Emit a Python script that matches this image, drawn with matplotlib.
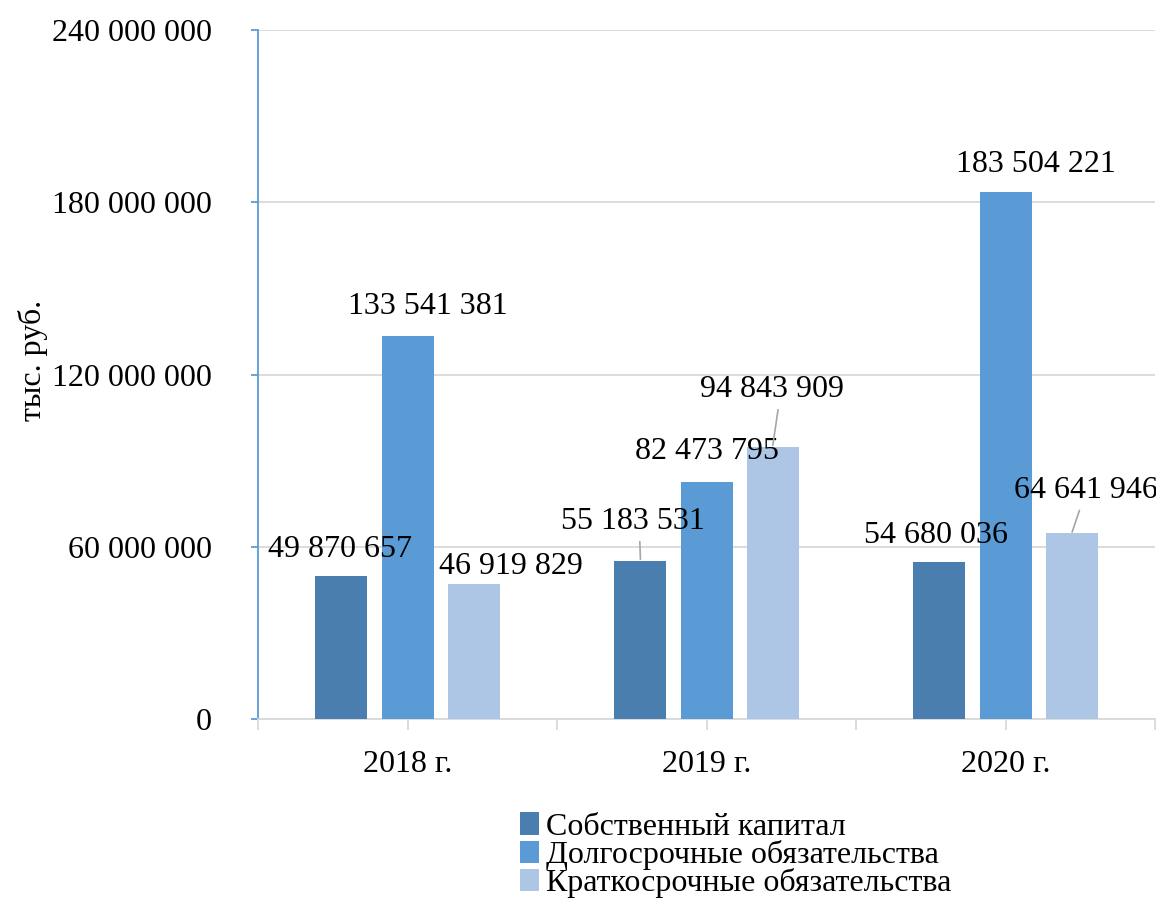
import numpy as np
import matplotlib.pyplot as plt
from matplotlib.ticker import FuncFormatter, MultipleLocator

plt.rcParams['font.family'] = ['Liberation Serif', 'DejaVu Serif']

years = ['2018 г.', '2019 г.', '2020 г.']
series = ['Собственный капитал', 'Долгосрочные обязательства', 'Краткосрочные обязательства']
equity = [49870657, 55183531, 54680036]
long_term = [133541381, 82473795, 183504221]
short_term = [46919829, 94843909, 64641946]
colors = ['#4A7EAF', '#5B9BD5', '#ADC6E5']

# label offsets from bar top (pixels) and whether a leader line is drawn
label_off = [
    [(-1, 26), (20, 29), (37, 18)],
    [(-8, 39), (0, 31), (-1, 57)],
    [(-3, 27), (30, 28), (14, 43)],
]
leaders = {(1, 0): 0.55, (1, 2): 0.55, (2, 2): 0.47}

def fmt(v):
    return f'{int(v):,}'.replace(',', ' ')

fig = plt.figure(figsize=(11.56, 9.07), dpi=100)
ax = fig.add_axes([0.2232, 0.2073, 0.7760, 0.7596])

x = np.arange(len(years))
w = 0.174
step = 0.221
data = [equity, long_term, short_term]
for i, vals in enumerate(data):
    ax.bar(x + (i - 1) * step, vals, w, color=colors[i], label=series[i], zorder=3)

for j in range(len(years)):
    for i, vals in enumerate(data):
        dx, dy = label_off[j][i]
        xy = (x[j] + (i - 1) * step, vals[j])
        kw = {}
        if (j, i) in leaders:
            kw['arrowprops'] = dict(arrowstyle='-', color='#A6A6A6', lw=1.2,
                                    shrinkA=2, shrinkB=1,
                                    relpos=(leaders[(j, i)], 0))
        ax.annotate(fmt(vals[j]), xy=xy, xytext=(dx, dy),
                    textcoords='offset pixels', ha='center', va='center',
                    fontsize=23, zorder=5, **kw)

ax.set_xlim(-0.5, 2.5)
ax.set_ylim(0, 240000000)
ax.yaxis.set_major_locator(MultipleLocator(60000000))
ax.yaxis.set_major_formatter(FuncFormatter(lambda v, p: fmt(v)))
ax.grid(axis='y', color='#D9D9D9', lw=1.3, zorder=0)

ax.set_xticks([-0.5, 0.5, 1.5, 2.5])
ax.set_xticks(x, minor=True)
ax.set_xticklabels([])
ax.set_xticklabels(years, minor=True)
ax.tick_params(axis='x', which='both', length=8, color='#D9D9D9', width=1.3,
               labelsize=23, pad=14)
ax.tick_params(axis='y', length=5, color='#5B9BD5', width=1.3, labelsize=23, pad=28)

for s in ['top', 'right']:
    ax.spines[s].set_visible(False)
ax.spines['bottom'].set_color('#D9D9D9')
ax.spines['bottom'].set_linewidth(1.3)
ax.spines['left'].set_color('#5B9BD5')
ax.spines['left'].set_linewidth(1.3)

ax.set_ylabel('тыс. руб.', fontsize=23)
ax.yaxis.set_label_coords(-0.234, 0.52)

fig.legend(loc='upper left', bbox_to_anchor=(0.436, 0.122), frameon=False,
           fontsize=23, labelspacing=-0.05, handlelength=0.6, handleheight=0.7,
           handletextpad=0.2, borderpad=0)

fig.savefig('out.png', dpi=100)
